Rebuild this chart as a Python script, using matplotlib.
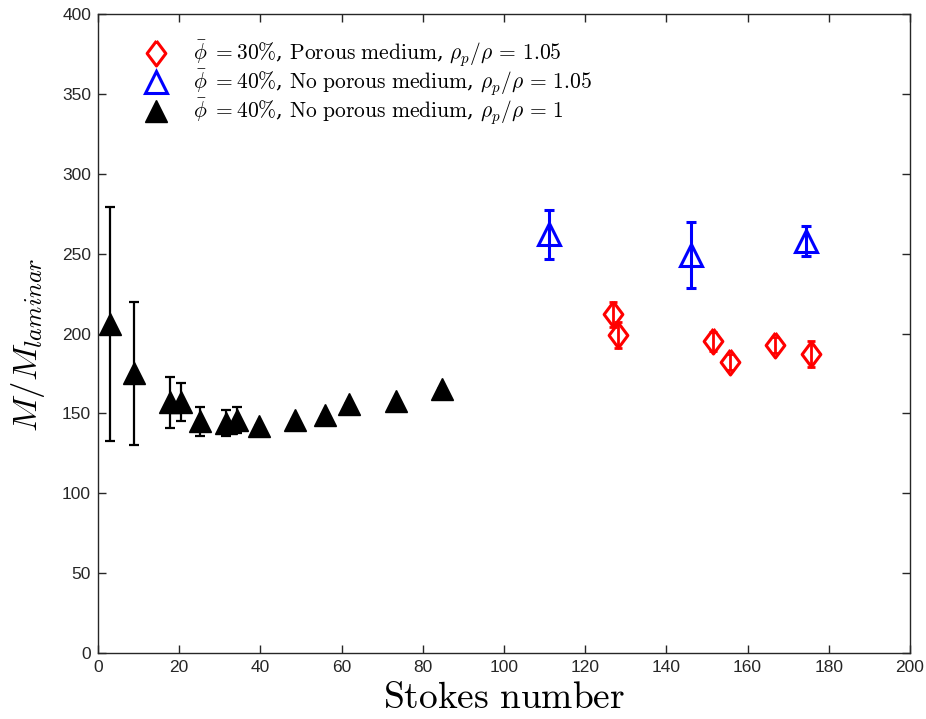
import matplotlib.pyplot as plt

plt.rcParams['mathtext.fontset'] = 'cm'

# Datos
st_negro = [3.0, 8.9, 17.7, 20.4, 25.1, 31.5, 34.2, 39.7, 48.5, 55.9, 61.8, 73.4, 84.8]
m_negro = [206, 175, 157, 157, 145, 144, 146, 142, 146, 149, 156, 158, 165]
err_negro = [73, 45, 16, 12, 9, 8, 8, 0, 0, 0, 0, 0, 0]

st_azul = [111.2, 146.1, 174.4]
m_azul = [262, 249, 258]
err_azul = [15.5, 20.5, 9.5]

st_rojo = [126.8, 128.0, 151.4, 155.7, 166.7, 175.5]
m_rojo = [212, 199, 195, 182, 193, 187]
err_rojo = [8, 8, 6, 5, 5, 8]

etiquetas = [
    r'$\bar{\phi}\ {=}\mathrm{30\%}$, $\mathrm{Porous\ medium}$, $\rho_p/\rho\,=\,1.05$',
    r'$\bar{\phi}\ {=}\mathrm{40\%}$, $\mathrm{No\ porous\ medium}$, $\rho_p/\rho\,=\,1.05$',
    r'$\bar{\phi}\ {=}\mathrm{40\%}$, $\mathrm{No\ porous\ medium}$, $\rho_p/\rho\,=\,1$',
]

diamante = [(0, 1), (0.75, 0), (0, -1), (-0.75, 0), (0, 1)]

fig = plt.figure(figsize=(9.26, 7.19), dpi=100)
ax = fig.add_axes([0.1058, 0.0918, 0.8769, 0.8887])

ax.errorbar(st_rojo, m_rojo, yerr=err_rojo, fmt='none', ecolor='red',
            elinewidth=2, capsize=3, capthick=2)
l_rojo, = ax.plot(st_rojo, m_rojo, linestyle='none', marker=diamante, markersize=18,
                  markerfacecolor='none', markeredgecolor='red', markeredgewidth=2.2)

ax.errorbar(st_azul, m_azul, yerr=err_azul, fmt='none', ecolor='blue',
            elinewidth=2.2, capsize=3.5, capthick=2.2)
l_azul, = ax.plot(st_azul, m_azul, linestyle='none', marker='^', markersize=16,
                  markerfacecolor='none', markeredgecolor='blue', markeredgewidth=2.2)

ax.errorbar(st_negro, m_negro, yerr=err_negro, fmt='none', ecolor='black',
            elinewidth=1.6, capsize=3.5, capthick=1.6)
l_negro, = ax.plot(st_negro, m_negro, linestyle='none', marker='^', markersize=16,
                   markerfacecolor='black', markeredgecolor='black')

ax.set_xlim(0, 200)
ax.set_ylim(0, 400)
ax.set_xticks(range(0, 201, 20))
ax.set_yticks(range(0, 401, 50))
ax.tick_params(direction='in', top=True, right=True, length=6, width=1,
               labelsize=12.5, pad=5, colors='#262626')
for lab in ax.get_xticklabels() + ax.get_yticklabels():
    lab.set_fontfamily('Liberation Sans')
    lab.set_fontstretch('condensed')
for s in ax.spines.values():
    s.set_linewidth(1)
    s.set_color('#262626')

ax.set_xlabel(r'$\mathrm{Stokes\ number}$', fontsize=27, labelpad=4)
ax.set_ylabel(r'$M/M_{laminar}$', fontsize=25)
ax.yaxis.set_label_coords(-0.063, 0.482)

ax.legend([l_rojo, l_azul, l_negro], etiquetas, loc='upper left', frameon=False,
          prop={'family': 'DejaVu Serif', 'size': 15.5},
          handlelength=1.0, handletextpad=1.2, labelspacing=-0.05,
          borderaxespad=0.3, bbox_to_anchor=(0.04, 0.985))

fig.savefig('out.png', dpi=100)
